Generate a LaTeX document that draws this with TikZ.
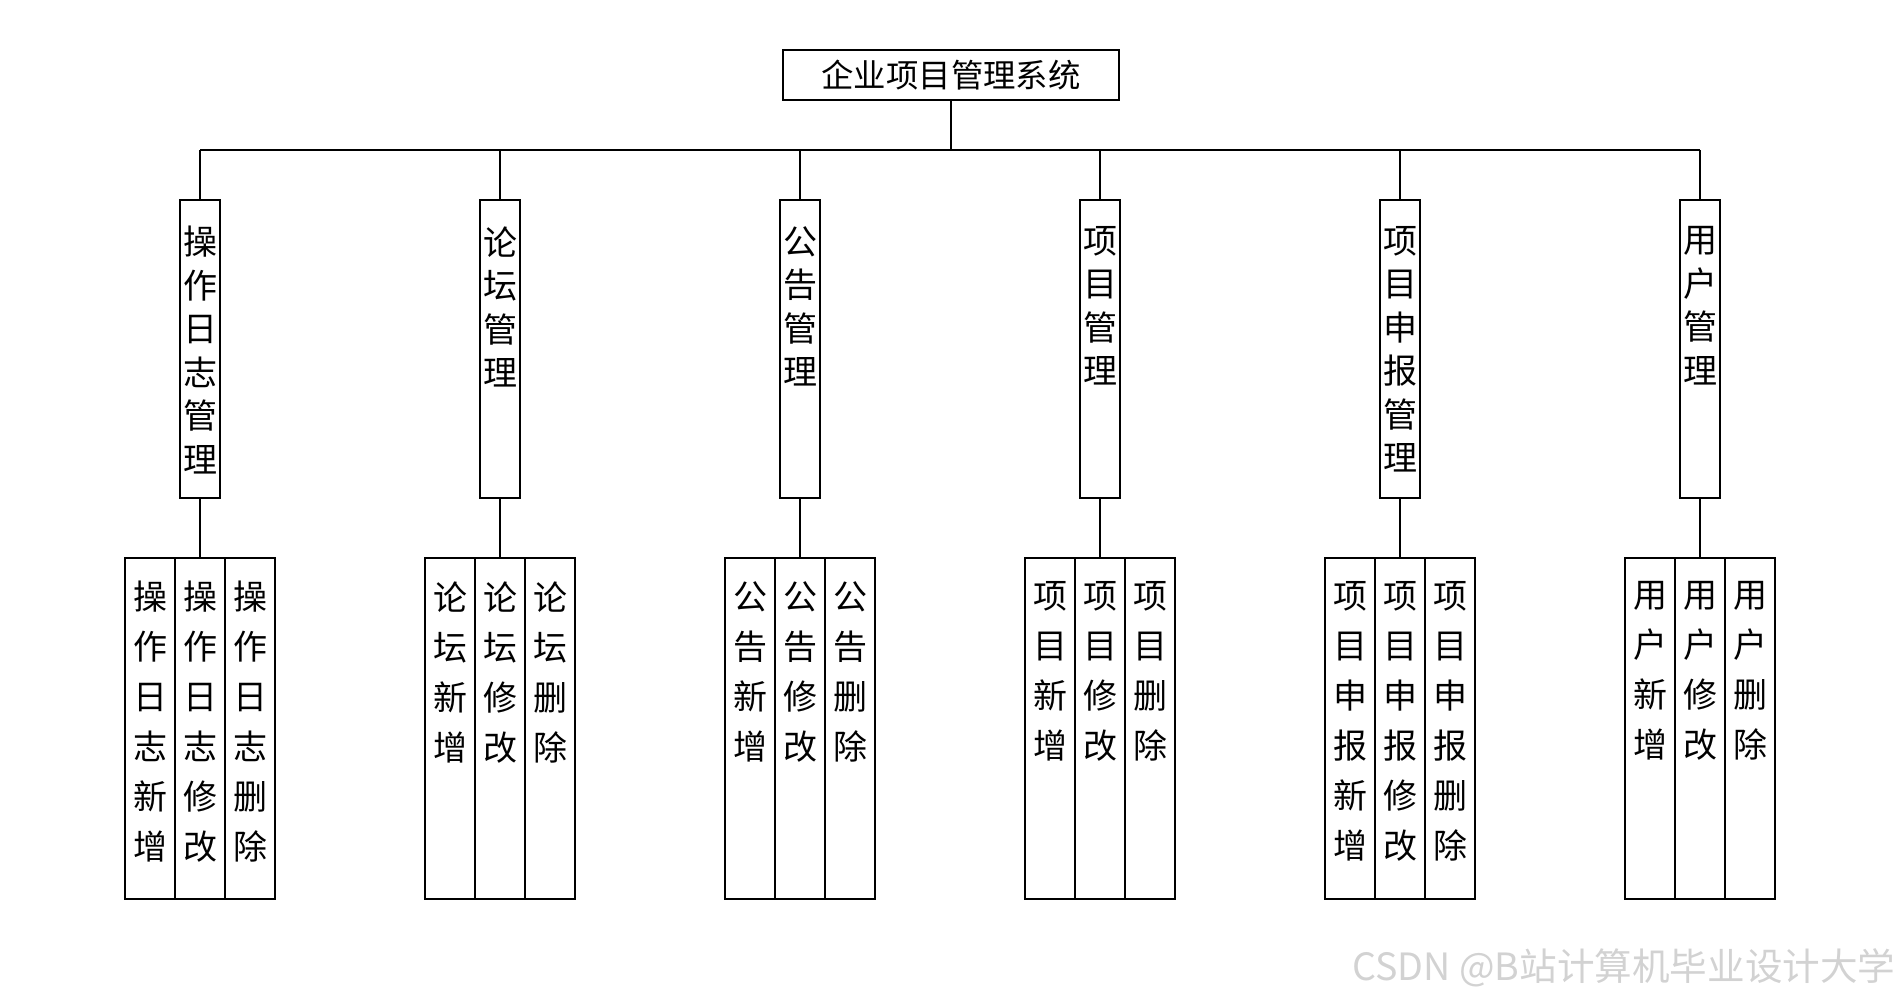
\documentclass[tikz,border=0pt]{standalone}
\usepackage{fontspec}
\setmainfont{Noto Sans CJK SC}
\usetikzlibrary{positioning}
\definecolor{wmgray}{HTML}{D2D2D2}
\tikzset{
  % Plain black frames, one thin stroke for boxes and wires alike.
  sysbox/.style  = {rectangle, draw, line width=0.6pt, inner sep=0pt,
                    minimum width=168pt, minimum height=25pt,
                    font=\fontsize{16.2}{16.2}\selectfont},
  modbox/.style  = {rectangle, draw, line width=0.6pt, inner sep=0pt,
                    minimum width=20pt, minimum height=149pt},
  leafbox/.style = {rectangle, draw, line width=0.6pt, inner sep=0pt,
                    minimum width=25pt, minimum height=170.5pt},
  modtxt/.style  = {anchor=north, align=center, inner sep=0pt,
                    font=\fontsize{17}{21.75}\selectfont},
  leaftxt/.style = {anchor=north, align=center, inner sep=0pt,
                    font=\fontsize{17}{25}\selectfont},
  wire/.style    = {line width=0.6pt},
  wmark/.style   = {font=\fontsize{18.8}{18.8}\selectfont, text=wmgray},
}
\begin{document}
\begin{tikzpicture}[x=0.5pt,y=-0.5pt]
\useasboundingbox (0,0) rectangle (1900,1000);
% root and bus
\node[sysbox] (sys) at (951,75) {企业项目管理系统};
\coordinate (busL) at (200,150);
\coordinate (busR) at (1700,150);
\draw[wire] (busL) -- (busR);
\draw[wire] (sys.south) -- (sys.south |- busL);
% modules, each with three leaves
\foreach \i/\nm/\pre [evaluate=\i as \cx using 200+300*(\i-1)] in {
    1/{操\\作\\日\\志\\管\\理}/{操\\作\\日\\志},
    2/{论\\坛\\管\\理}/{论\\坛},
    3/{公\\告\\管\\理}/{公\\告},
    4/{项\\目\\管\\理}/{项\\目},
    5/{项\\目\\申\\报\\管\\理}/{项\\目\\申\\报},
    6/{用\\户\\管\\理}/{用\\户}} {
  \node[modbox] (mod\i) at (\cx,349) {};
  \node[modtxt] (mt\i) at ([yshift=-13.3pt]mod\i.north) {\nm};
  \draw[wire] (mod\i.north) -- (mod\i.north |- busL);
  \foreach \j/\dx/\act in {a/-50/{新\\增}, b/0/{修\\改}, c/50/{删\\除}} {
    \node[leafbox] (leaf\i\j) at (\cx+\dx,728.5) {};
    \node[leaftxt] (lt\i\j) at ([yshift=-11.8pt]leaf\i\j.north) {\pre\\\act};
  }
  \draw[wire] (mod\i.south) -- (leaf\i b.north);
}
% watermark
\node[wmark] (wm) at (1624,968) {CSDN @B站计算机毕业设计大学};
\end{tikzpicture}
\end{document}
